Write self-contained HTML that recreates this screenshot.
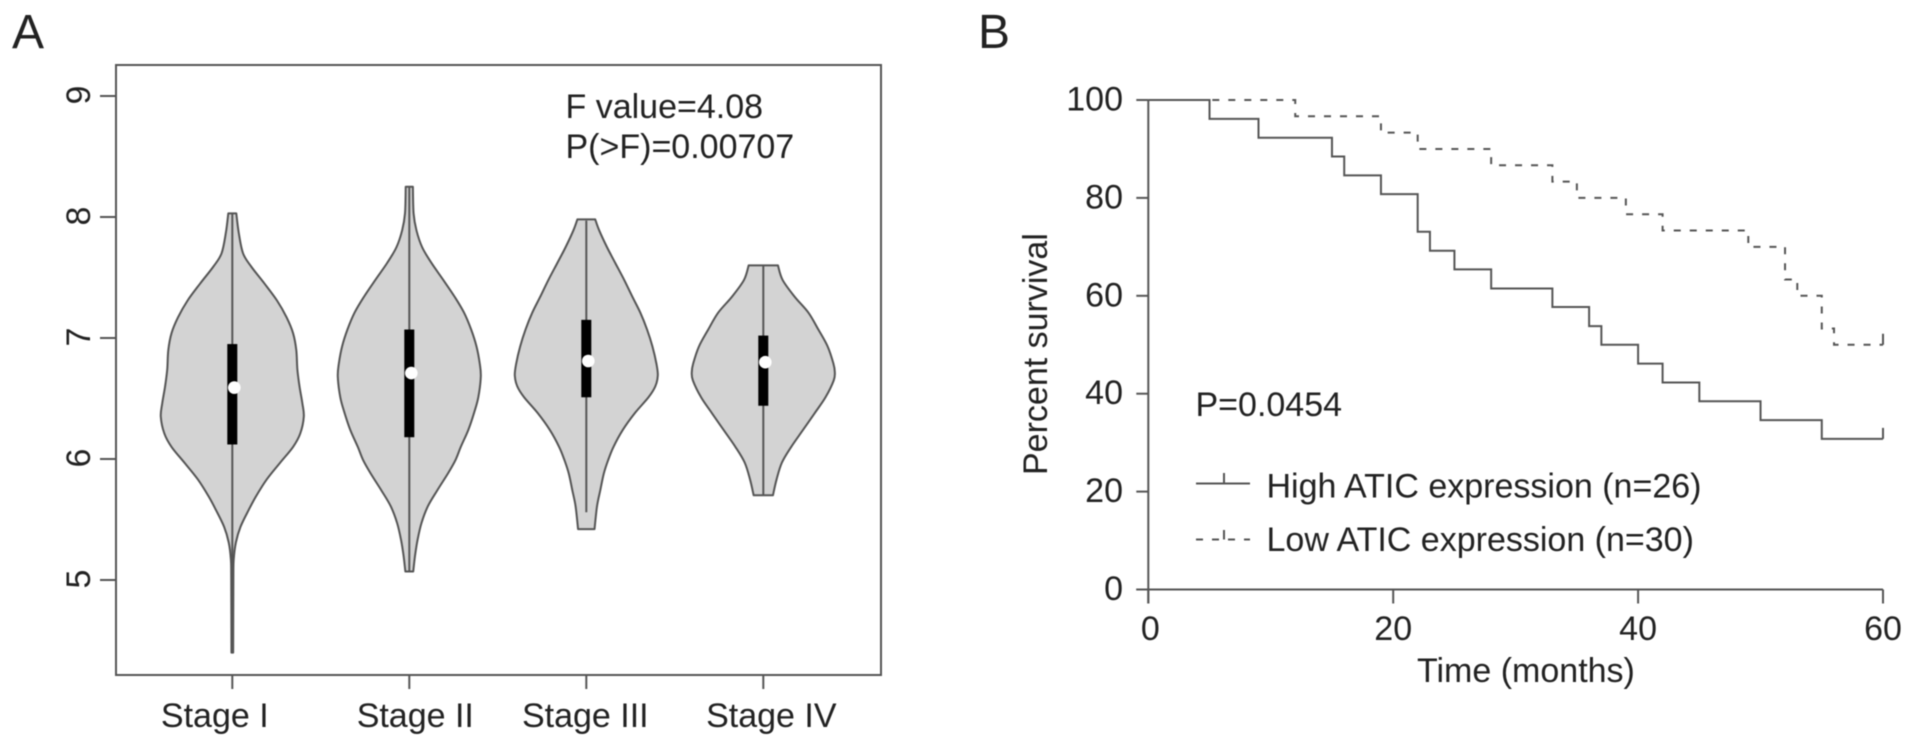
<!DOCTYPE html>
<html lang="en">
<head>
<meta charset="utf-8">
<title>ATIC expression: violin plot and survival curves</title>
<style>
  html, body { margin: 0; padding: 0; background: #fff; }
  body { width: 1913px; height: 747px; overflow: hidden; }
  svg { display: block; filter: blur(0.4px); }
  text { font-family: "Liberation Sans", Arial, sans-serif; font-size: 34px; fill: #222; }
  .panel-label { font-size: 48px; }
  .axis { stroke: #555; stroke-width: 2; fill: none; }
</style>
</head>
<body>
<svg id="figure" xmlns="http://www.w3.org/2000/svg" width="1913" height="747" viewBox="0 0 1913 747">
  <rect width="1913" height="747" fill="#fff"/>

  <text class="panel-label" x="12" y="48">A</text>
  <text class="panel-label" x="978" y="48">B</text>

  <g id="panel-a">
    <rect class="axis" x="116" y="65" width="765" height="610"/>
    <g id="violins"></g>
    <g id="a-axes"></g>
    <text x="565.5" y="118">F value=4.08</text>
    <text x="565.5" y="158">P(&gt;F)=0.00707</text>
  </g>

  <g id="panel-b">
    <g id="b-axes"></g>
    <g id="curves"></g>
    <text x="1417" y="682">Time (months)</text>
    <text transform="translate(1047 475) rotate(-90)">Percent survival</text>
    <text x="1195.5" y="416">P=0.0454</text>

    <g>
      <line class="axis" x1="1196" y1="483.5" x2="1250" y2="483.5"/>
      <line class="axis" x1="1224" y1="473" x2="1224" y2="483.5"/>
      <text x="1266.5" y="497.5">High ATIC expression (n=26)</text>
    </g>
    <g>
      <line class="axis" x1="1196" y1="539.5" x2="1250" y2="539.5" stroke-dasharray="7 9"/>
      <line class="axis" x1="1224" y1="530" x2="1224" y2="539.5"/>
      <text x="1266.5" y="551">Low ATIC expression (n=30)</text>
    </g>
  </g>
</svg>

<script>
/* ---------- Panel A data ---------- */
const stageCategories = ['Stage I', 'Stage II', 'Stage III', 'Stage IV'];
const expressionTicks = [5, 6, 7, 8, 9];

const stageILevels = [8.03, 7.87, 7.70, 7.59, 7.45, 7.31, 7.17, 7.04, 6.90, 6.74, 6.60, 6.46, 6.35, 6.21, 6.10, 5.97, 5.83, 5.69, 5.58, 5.44, 5.31, 5.17, 5.02, 4.40];
const stageIDensity = [0.056, 0.09, 0.15, 0.265, 0.45, 0.625, 0.76, 0.85, 0.895, 0.91, 0.94, 0.98, 1, 0.95, 0.85, 0.67, 0.48, 0.33, 0.23, 0.115, 0.05, 0.02, 0.015, 0.012];

const stageIILevels = [8.25, 8.03, 7.89, 7.75, 7.62, 7.48, 7.34, 7.21, 7.07, 6.93, 6.79, 6.68, 6.51, 6.38, 6.24, 6.10, 5.99, 5.88, 5.74, 5.61, 5.47, 5.33, 5.20, 5.07];
const stageIIDensity = [0.05, 0.06, 0.10, 0.18, 0.31, 0.475, 0.635, 0.765, 0.865, 0.94, 0.985, 1, 0.965, 0.905, 0.825, 0.72, 0.645, 0.54, 0.39, 0.26, 0.17, 0.115, 0.08, 0.055];

const stageIIILevels = [7.98, 7.89, 7.75, 7.62, 7.48, 7.34, 7.21, 7.07, 6.93, 6.79, 6.69, 6.60, 6.51, 6.38, 6.24, 6.10, 5.99, 5.88, 5.74, 5.61, 5.42];
const stageIIIDensity = [0.125, 0.18, 0.29, 0.405, 0.53, 0.645, 0.755, 0.85, 0.925, 0.98, 1, 0.965, 0.87, 0.68, 0.51, 0.38, 0.305, 0.245, 0.195, 0.15, 0.115];

const stageIVLevels = [7.60, 7.48, 7.34, 7.21, 7.07, 6.93, 6.79, 6.72, 6.65, 6.51, 6.38, 6.24, 6.10, 5.97, 5.83, 5.70];
const stageIVDensity = [0.205, 0.27, 0.44, 0.63, 0.77, 0.90, 0.98, 1, 0.985, 0.87, 0.72, 0.555, 0.39, 0.26, 0.185, 0.135];

const whiskerHigh = [8.03, 8.25, 7.97, 7.60];
const whiskerLow = [4.40, 5.07, 5.56, 5.70];
const quartileUpper = [6.95, 7.07, 7.15, 7.02];
const quartileLower = [6.12, 6.18, 6.51, 6.44];
const medians = [6.59, 6.71, 6.81, 6.80];

/* ---------- Panel B data ---------- */
const highTimes = [0, 5, 9, 15, 16, 19, 22, 23, 25, 28, 33, 36, 37, 40, 42, 45, 50, 55];
const highSurvival = [100, 96.15, 92.3, 88.46, 84.6, 80.77, 73.08, 69.2, 65.4, 61.5, 57.7, 53.8, 50, 46.15, 42.3, 38.46, 34.6, 30.77];
const lowTimes = [0, 12, 19, 22, 28, 33, 35, 39, 42, 49, 52, 53, 55, 56];
const lowSurvival = [100, 96.67, 93.33, 90, 86.67, 83.33, 80, 76.67, 73.33, 70, 63.33, 60, 53.33, 50];
const followUpEnd = 60;
const survivalTicks = [0, 20, 40, 60, 80, 100];
const timeTicks = [0, 20, 40, 60];

/* ---------- Scales and layout ---------- */
const SVG_NS = 'http://www.w3.org/2000/svg';
const yA = v => 580 - (v - 5) * 121;
const xA = i => 232.3 + i * 177;
const densityToPx = d => d * 71.5;
const xB = t => 1148.3 + t * 12.245;
const yB = p => 589.5 - p * 4.895;
const labelNudge = [-17.5, 6, -1, 8];

function make(parent, tag, attrs, text) {
  const node = document.createElementNS(SVG_NS, tag);
  for (const key in attrs) node.setAttribute(key, attrs[key]);
  if (text !== undefined) node.textContent = text;
  parent.appendChild(node);
  return node;
}

/* Catmull-Rom smoothing through a list of points */
function smooth(points) {
  let d = '';
  for (let i = 0; i < points.length - 1; i++) {
    const p0 = points[Math.max(i - 1, 0)];
    const p1 = points[i];
    const p2 = points[i + 1];
    const p3 = points[Math.min(i + 2, points.length - 1)];
    const c1x = p1[0] + (p2[0] - p0[0]) / 6;
    const c1y = p1[1] + (p2[1] - p0[1]) / 6;
    const c2x = p2[0] - (p3[0] - p1[0]) / 6;
    const c2y = p2[1] - (p3[1] - p1[1]) / 6;
    d += ' C' + c1x.toFixed(2) + ' ' + c1y.toFixed(2) + ' ' + c2x.toFixed(2) + ' ' + c2y.toFixed(2) + ' ' + p2[0].toFixed(2) + ' ' + p2[1].toFixed(2);
  }
  return d;
}

/* ---------- Panel A ---------- */
const violinGroup = document.getElementById('violins');
const aAxes = document.getElementById('a-axes');
const violinLevels = [stageILevels, stageIILevels, stageIIILevels, stageIVLevels];
const violinDensity = [stageIDensity, stageIIDensity, stageIIIDensity, stageIVDensity];

stageCategories.forEach((stage, i) => {
  const cx = xA(i);
  const levels = violinLevels[i];
  const density = violinDensity[i];
  const right = levels.map((v, k) => [cx + densityToPx(density[k]), yA(v)]);
  const left = levels.map((v, k) => [cx - densityToPx(density[k]), yA(v)]).reverse();
  const d = 'M' + right[0][0].toFixed(2) + ' ' + right[0][1].toFixed(2) + smooth(right) +
    ' L' + left[0][0].toFixed(2) + ' ' + left[0][1].toFixed(2) + smooth(left) + ' Z';

  const outline = make(violinGroup, 'path', { d: d, fill: '#d3d3d3', stroke: '#555', 'stroke-width': 2, 'stroke-linejoin': 'round' });
  
  

  const whisker = make(violinGroup, 'line', { x1: cx, x2: cx, y1: yA(whiskerHigh[i]), y2: yA(whiskerLow[i]), stroke: '#555', 'stroke-width': 2 });
  
  

  const box = make(violinGroup, 'rect', { x: cx - 5, width: 10, y: yA(quartileUpper[i]), height: yA(quartileLower[i]) - yA(quartileUpper[i]), fill: '#000' });
  
  

  const dot = make(violinGroup, 'circle', { cx: cx + 2, cy: yA(medians[i]), r: 6.3, fill: '#fff' });
  
  

  const tick = make(aAxes, 'line', { class: 'axis', x1: cx, x2: cx, y1: 675, y2: 689 });
  
  

  const label = make(aAxes, 'text', { x: cx + labelNudge[i], y: 727, 'text-anchor': 'middle' }, stage);
  
  
});

expressionTicks.forEach(v => {
  const tick = make(aAxes, 'line', { class: 'axis', x1: 100, x2: 116, y1: yA(v), y2: yA(v) });
  
  

  const label = make(aAxes, 'text', { transform: 'translate(90 ' + (yA(v) - 1) + ') rotate(-90)', 'text-anchor': 'middle' }, String(v));
  
  
});

/* ---------- Panel B ---------- */
const bAxes = document.getElementById('b-axes');
const curves = document.getElementById('curves');

const yAxisLine = make(bAxes, 'line', { class: 'axis', x1: xB(0), x2: xB(0), y1: yB(100), y2: yB(0) + 14 });



const xAxisLine = make(bAxes, 'line', { class: 'axis', x1: xB(0) - 12, x2: xB(60), y1: yB(0), y2: yB(0) });



survivalTicks.forEach(p => {
  const tick = make(bAxes, 'line', { class: 'axis', x1: xB(0) - 12, x2: xB(0), y1: yB(p), y2: yB(p) });
  
  

  const label = make(bAxes, 'text', { x: 1123, y: yB(p) + 10.5, 'text-anchor': 'end' }, String(p));
  
  
});

timeTicks.forEach(t => {
  const tick = make(bAxes, 'line', { class: 'axis', x1: xB(t), x2: xB(t), y1: yB(0), y2: yB(0) + 14 });
  
  

  const label = make(bAxes, 'text', { x: xB(t) + (t === 0 ? 2 : 0), y: 640, 'text-anchor': 'middle' }, String(t));
  
  
});

function stepPath(times, values, end) {
  let d = 'M' + xB(times[0]) + ' ' + yB(values[0]);
  for (let i = 1; i < times.length; i++) {
    d += ' H' + xB(times[i]) + ' V' + yB(values[i]);
  }
  return d + ' H' + xB(end);
}

const lowCurve = make(curves, 'path', { class: 'axis', d: stepPath(lowTimes, lowSurvival, followUpEnd), 'stroke-dasharray': '7 9' });



const lowCensor = make(curves, 'line', { class: 'axis', x1: xB(followUpEnd), x2: xB(followUpEnd), y1: yB(lowSurvival[lowSurvival.length - 1]), y2: yB(lowSurvival[lowSurvival.length - 1]) - 11 });



const highCurve = make(curves, 'path', { class: 'axis', d: stepPath(highTimes, highSurvival, followUpEnd) });



const highCensor = make(curves, 'line', { class: 'axis', x1: xB(followUpEnd), x2: xB(followUpEnd), y1: yB(highSurvival[highSurvival.length - 1]), y2: yB(highSurvival[highSurvival.length - 1]) - 11 });


</script>
</body>
</html>
